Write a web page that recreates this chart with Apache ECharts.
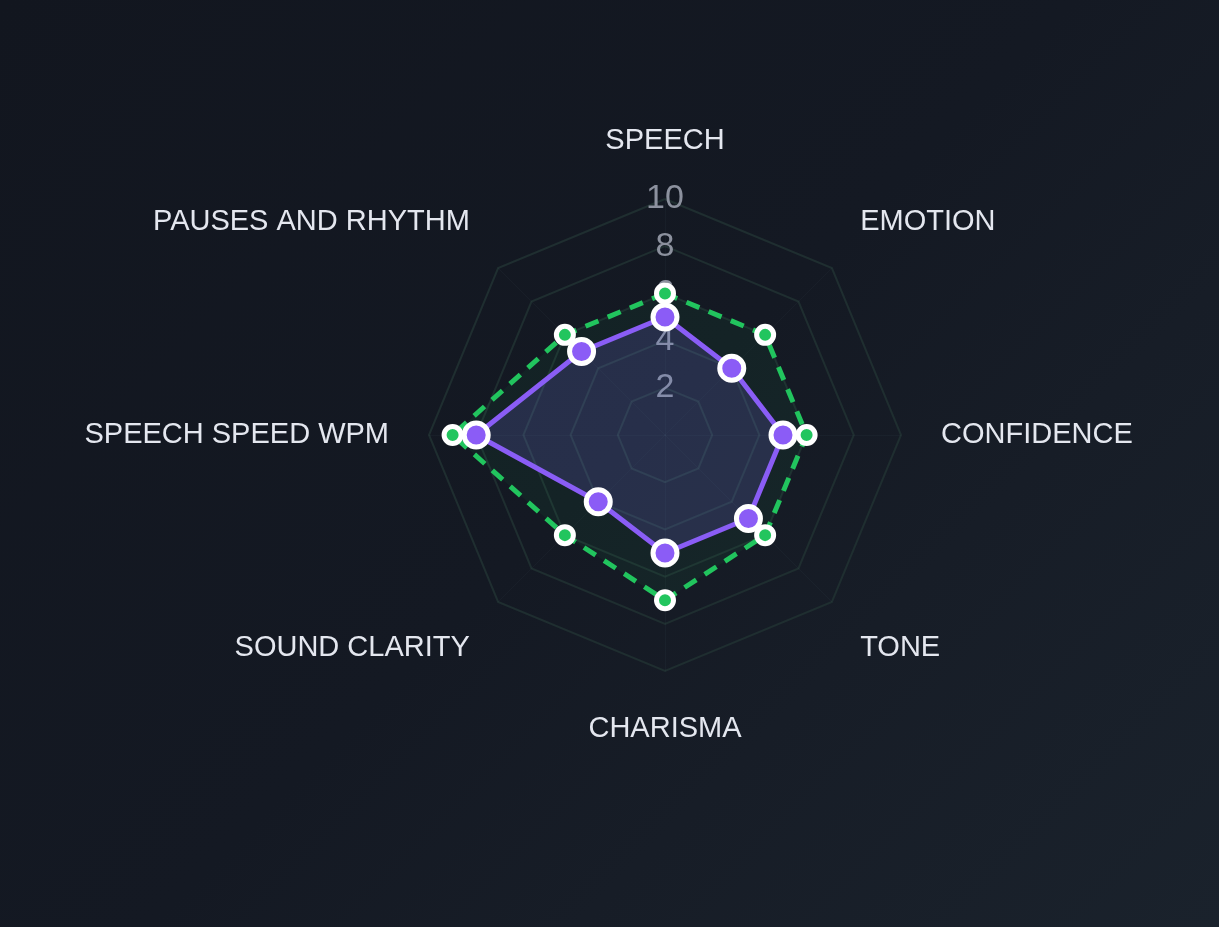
<!DOCTYPE html>
<html>
<head>
<meta charset="utf-8">
<title>Speech radar</title>
<script src="https://cdn.jsdelivr.net/npm/echarts@6/dist/echarts.min.js"></script>
<style>
  html, body {
    margin: 0;
    padding: 0;
    width: 100%;
    height: 100%;
    background: linear-gradient(135deg, #12161f 0%, #141923 50%, #171d27 70%, #1a222c 100%);
  }
  #chart {
    width: 1219px;
    height: 927px;
  }
</style>
</head>
<body>
<div id="chart"></div>
<script>
// categories in clockwise order, starting at the top
const categories = ['SPEECH', 'EMOTION', 'CONFIDENCE', 'TONE', 'CHARISMA', 'SOUND CLARITY', 'SPEECH SPEED WPM', 'PAUSES AND RHYTHM']
const currentScores = [5, 4, 5, 5, 5, 4, 8, 5]
const targetScores = [6, 6, 6, 6, 7, 6, 9, 6]
const maxScore = 10

// echarts draws radar indicators counter-clockwise, so keep the first one and flip the rest
const toRadarOrder = arr => [arr[0]].concat(arr.slice(1).reverse())

// diagonal names sit a bit higher / lower than the plain radial position
const upperNames = ['EMOTION', 'PAUSES AND RHYTHM']
const lowerNames = ['TONE', 'SOUND CLARITY']

const indicators = toRadarOrder(categories).map((name, i) => {
  const item = { name: name, max: maxScore, min: 0 }
  // only the top axis shows the scale
  if (i === 0) {
    item.axisLabel = { show: true }
  }
  return item
})

const chart = echarts.init(document.getElementById('chart'))

const option = {
  backgroundColor: 'transparent',
  radar: {
    center: [665, 435],
    radius: 236,
    shape: 'polygon',
    splitNumber: 5,
    indicator: indicators,
    nameGap: 40,
    axisName: {
      color: '#e4e7ef',
      fontSize: 29,
      lineHeight: 36,
      fontFamily: 'Liberation Sans, Arial, sans-serif',
      formatter: function (name) {
        if (upperNames.indexOf(name) > -1) return name + '\n '
        if (lowerNames.indexOf(name) > -1) return ' \n' + name
        return name
      }
    },
    axisLabel: {
      show: false,
      showMinLabel: false,
      margin: 0,
      align: 'center',
      verticalAlign: 'middle',
      color: '#8c919e',
      fontSize: 34,
      fontFamily: 'Liberation Sans, Arial, sans-serif'
    },
    axisLine: {
      lineStyle: { color: 'rgba(120, 150, 160, 0.05)', width: 1 }
    },
    splitLine: {
      lineStyle: { color: '#1f2e30', width: 2 }
    },
    splitArea: { show: false }
  },
  series: [
    {
      name: 'Target',
      type: 'radar',
      z: 2,
      data: [{ value: toRadarOrder(targetScores), name: 'Target' }],
      symbol: 'circle',
      symbolSize: 17,
      itemStyle: {
        color: '#22c55e',
        borderColor: '#ffffff',
        borderWidth: 5
      },
      lineStyle: {
        color: '#22c55e',
        width: 5,
        type: [14, 10]
      },
      areaStyle: {
        color: 'rgba(34, 197, 94, 0.09)'
      }
    },
    {
      name: 'Current',
      type: 'radar',
      z: 3,
      data: [{ value: toRadarOrder(currentScores), name: 'Current' }],
      symbol: 'circle',
      symbolSize: 24,
      itemStyle: {
        color: '#8b5cf6',
        borderColor: '#ffffff',
        borderWidth: 5
      },
      lineStyle: {
        color: '#8b5cf6',
        width: 5
      },
      areaStyle: {
        color: 'rgba(130, 110, 246, 0.25)'
      }
    }
  ]
}

chart.setOption(option)
</script>
</body>
</html>
